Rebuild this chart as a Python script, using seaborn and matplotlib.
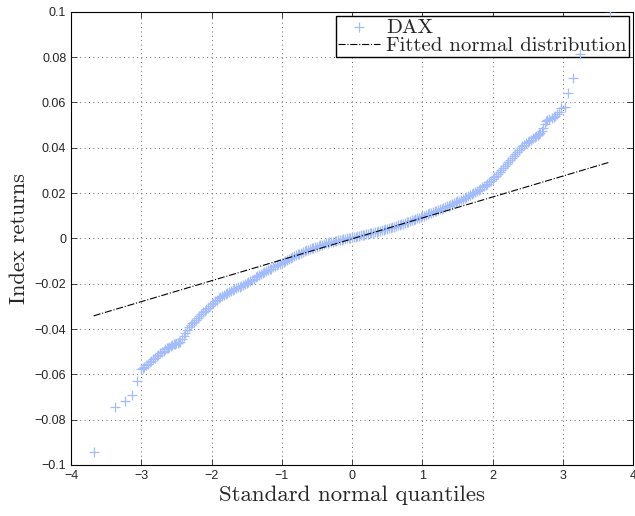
import numpy as np
import pandas as pd
import seaborn as sns
import matplotlib.pyplot as plt

# Standard normal quantiles (x) and DAX index returns (y)
# left tail
tail_lo_q = [-3.68, -3.37, -3.23, -3.14, -3.06, -3.01, -2.98, -2.96, -2.93, -2.91,
             -2.88, -2.86, -2.83, -2.81, -2.78, -2.76, -2.73, -2.71, -2.68, -2.66,
             -2.64, -2.62, -2.60, -2.58, -2.56, -2.54, -2.52, -2.50, -2.48, -2.46]
tail_lo_r = [-0.0944, -0.0745, -0.0716, -0.0690, -0.0628, -0.0578, -0.0572, -0.0566, -0.0560, -0.0554,
             -0.0547, -0.0541, -0.0534, -0.0527, -0.0520, -0.0513, -0.0506, -0.0500, -0.0495, -0.0490,
             -0.0486, -0.0482, -0.0478, -0.0474, -0.0471, -0.0468, -0.0465, -0.0463, -0.0461, -0.0458]

# body of the distribution
body_q = [
    -2.450, -2.425, -2.400, -2.375, -2.350, -2.325, -2.300, -2.275, -2.250, -2.225,
    -2.200, -2.175, -2.150, -2.125, -2.100, -2.075, -2.050, -2.025, -2.000, -1.975,
    -1.950, -1.925, -1.900, -1.875, -1.850, -1.825, -1.800, -1.775, -1.750, -1.725,
    -1.700, -1.675, -1.650, -1.625, -1.600, -1.575, -1.550, -1.525, -1.500, -1.475,
    -1.450, -1.425, -1.400, -1.375, -1.350, -1.325, -1.300, -1.275, -1.250, -1.225,
    -1.200, -1.175, -1.150, -1.125, -1.100, -1.075, -1.050, -1.025, -1.000, -0.975,
    -0.950, -0.925, -0.900, -0.875, -0.850, -0.825, -0.800, -0.775, -0.750, -0.725,
    -0.700, -0.675, -0.650, -0.625, -0.600, -0.575, -0.550, -0.525, -0.500, -0.475,
    -0.450, -0.425, -0.400, -0.375, -0.350, -0.325, -0.300, -0.275, -0.250, -0.225,
    -0.200, -0.175, -0.150, -0.125, -0.100, -0.075, -0.050, -0.025, 0.000, 0.025,
    0.050, 0.075, 0.100, 0.125, 0.150, 0.175, 0.200, 0.225, 0.250, 0.275,
    0.300, 0.325, 0.350, 0.375, 0.400, 0.425, 0.450, 0.475, 0.500, 0.525,
    0.550, 0.575, 0.600, 0.625, 0.650, 0.675, 0.700, 0.725, 0.750, 0.775,
    0.800, 0.825, 0.850, 0.875, 0.900, 0.925, 0.950, 0.975, 1.000, 1.025,
    1.050, 1.075, 1.100, 1.125, 1.150, 1.175, 1.200, 1.225, 1.250, 1.275,
    1.300, 1.325, 1.350, 1.375, 1.400, 1.425, 1.450, 1.475, 1.500, 1.525,
    1.550, 1.575, 1.600, 1.625, 1.650, 1.675, 1.700, 1.725, 1.750, 1.775,
    1.800, 1.825, 1.850, 1.875, 1.900, 1.925, 1.950, 1.975, 2.000, 2.025,
    2.050, 2.075, 2.100, 2.125, 2.150, 2.175, 2.200, 2.225, 2.250, 2.275,
    2.300, 2.325, 2.350, 2.375, 2.400, 2.425, 2.450,
]
body_r = [
    -0.0456, -0.0445, -0.0432, -0.0418, -0.0404, -0.0392, -0.0382, -0.0374, -0.0367, -0.0359,
    -0.0352, -0.0343, -0.0335, -0.0327, -0.0320, -0.0313, -0.0306, -0.0298, -0.0291, -0.0284,
    -0.0278, -0.0271, -0.0264, -0.0258, -0.0253, -0.0249, -0.0245, -0.0241, -0.0238, -0.0233,
    -0.0228, -0.0224, -0.0220, -0.0216, -0.0213, -0.0209, -0.0205, -0.0202, -0.0198, -0.0193,
    -0.0188, -0.0183, -0.0178, -0.0172, -0.0167, -0.0162, -0.0158, -0.0154, -0.0150, -0.0145,
    -0.0141, -0.0137, -0.0133, -0.0128, -0.0124, -0.0119, -0.0115, -0.0111, -0.0107, -0.0103,
    -0.0099, -0.0095, -0.0091, -0.0087, -0.0083, -0.0079, -0.0075, -0.0071, -0.0067, -0.0063,
    -0.0059, -0.0056, -0.0053, -0.0050, -0.0047, -0.0044, -0.0041, -0.0038, -0.0036, -0.0033,
    -0.0030, -0.0027, -0.0025, -0.0022, -0.0020, -0.0018, -0.0016, -0.0014, -0.0012, -0.0010,
    -0.0008, -0.0006, -0.0005, -0.0003, -0.0002, 0.0000, 0.0002, 0.0003, 0.0005, 0.0006,
    0.0008, 0.0010, 0.0012, 0.0013, 0.0015, 0.0017, 0.0019, 0.0020, 0.0022, 0.0024,
    0.0026, 0.0028, 0.0030, 0.0032, 0.0034, 0.0036, 0.0038, 0.0040, 0.0042, 0.0044,
    0.0047, 0.0049, 0.0052, 0.0054, 0.0057, 0.0059, 0.0062, 0.0065, 0.0068, 0.0071,
    0.0074, 0.0077, 0.0080, 0.0083, 0.0086, 0.0089, 0.0092, 0.0095, 0.0098, 0.0101,
    0.0104, 0.0107, 0.0110, 0.0113, 0.0116, 0.0119, 0.0122, 0.0125, 0.0128, 0.0131,
    0.0134, 0.0137, 0.0141, 0.0145, 0.0149, 0.0152, 0.0156, 0.0159, 0.0163, 0.0166,
    0.0170, 0.0174, 0.0178, 0.0182, 0.0186, 0.0190, 0.0195, 0.0199, 0.0204, 0.0209,
    0.0215, 0.0220, 0.0226, 0.0231, 0.0237, 0.0242, 0.0248, 0.0254, 0.0261, 0.0269,
    0.0277, 0.0285, 0.0294, 0.0302, 0.0310, 0.0319, 0.0328, 0.0337, 0.0346, 0.0355,
    0.0364, 0.0373, 0.0383, 0.0392, 0.0400, 0.0407, 0.0413,
]

# right tail
tail_hi_q = [2.475, 2.50, 2.525, 2.55, 2.575, 2.60, 2.62, 2.64, 2.66, 2.68,
             2.70, 2.72, 2.74, 2.76, 2.78, 2.80, 2.84, 2.87, 2.89, 2.92,
             2.94, 2.98, 3.03, 3.08, 3.15, 3.24, 3.67]
tail_hi_r = [0.0419, 0.0425, 0.0430, 0.0436, 0.0441, 0.0446, 0.0451, 0.0455, 0.0460, 0.0465,
             0.0475, 0.0487, 0.0505, 0.0520, 0.0524, 0.0526, 0.0531, 0.0536, 0.0541, 0.0550,
             0.0558, 0.0576, 0.0580, 0.0641, 0.0710, 0.0813, 0.1004]

# fitted normal line end points
fit_x = [-3.68, 3.67]
fit_y = [-0.0342, 0.0337]

x_ticks = [-4, -3, -2, -1, 0, 1, 2, 3, 4]
x_labels = ["\u22124", "\u22123", "\u22122", "\u22121", "0", "1", "2", "3", "4"]
y_ticks = [-0.1, -0.08, -0.06, -0.04, -0.02, 0, 0.02, 0.04, 0.06, 0.08, 0.1]
y_labels = ["\u22120.1", "\u22120.08", "\u22120.06", "\u22120.04", "\u22120.02", "0",
            "0.02", "0.04", "0.06", "0.08", "0.1"]

df = pd.DataFrame({"q": tail_lo_q + body_q + tail_hi_q,
                   "r": tail_lo_r + body_r + tail_hi_r})
fit = pd.DataFrame({"q": fit_x, "r": fit_y})

sns.set_style("ticks")
plt.rcParams["font.family"] = ["Liberation Sans", "DejaVu Sans"]

fig = plt.figure(figsize=(6.35, 5.16), dpi=100)
ax = fig.add_axes([0.112, 0.099, 0.885, 0.878])

sns.scatterplot(data=df, x="q", y="r", marker="+", color="#a3bdfc", s=42,
                linewidth=0.9, ax=ax, label="DAX", zorder=3)
sns.lineplot(data=fit, x="q", y="r", color="black", linestyle="-.", linewidth=0.8,
             ax=ax, label="Fitted normal distribution", zorder=4)

ax.set_xlim(-4, 4)
ax.set_ylim(-0.1, 0.1)
ax.set_xticks(x_ticks)
ax.set_xticklabels(x_labels)
ax.set_yticks(y_ticks)
ax.set_yticklabels(y_labels)
ax.tick_params(direction="in", top=True, right=True, labelsize=9, length=4, width=0.6)
ax.grid(True, linestyle=(0, (1, 3.5)), color="#666666", linewidth=0.7)
for sp in ax.spines.values():
    sp.set_visible(True)
    sp.set_linewidth(0.8)
    sp.set_color("black")

ax.set_xlabel("Standard normal quantiles", fontfamily="cmr10", fontsize=16.5, labelpad=3)
ax.set_ylabel("Index returns", fontfamily="cmr10", fontsize=16, labelpad=4)

leg = ax.legend(loc="upper right", prop={"family": "cmr10", "size": 15},
                frameon=True, fancybox=False, borderpad=0.1, labelspacing=0.0,
                handlelength=2.0, handletextpad=0.3, borderaxespad=0.2)
leg.get_frame().set_edgecolor("black")
leg.get_frame().set_linewidth(1.0)
leg.get_frame().set_alpha(1)
leg.set_zorder(2.5)  # top crosses sit over the legend edge, as in the original

fig.savefig("out.png", dpi=100)
